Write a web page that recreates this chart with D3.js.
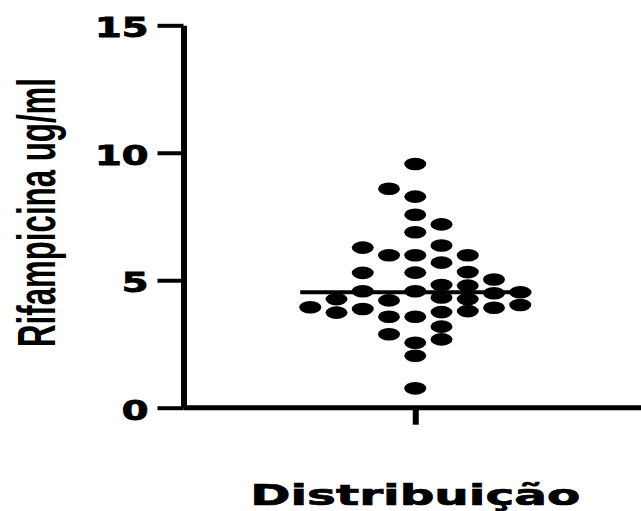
<!DOCTYPE html>
<html>
<head>
<meta charset="utf-8">
<script src="https://cdn.jsdelivr.net/npm/d3@7"></script>
<style>
  html, body { margin: 0; padding: 0; background: #fff; }
  svg { display: block; }
</style>
</head>
<body>
<svg id="chart" width="641" height="511"></svg>
<script>
// ---- data ----
const categories = ["Distribuição"];
const yTickValues = [0, 5, 10, 15];
const yLabel = "Rifampicina ug/ml";
// concentration values (ug/ml)
const values = [
  3.94,
  4.26, 3.73,
  6.28, 5.29, 4.57, 3.87,
  8.59, 5.98, 4.21, 3.57, 2.88,
  9.56, 8.28, 7.57, 6.88, 5.98, 5.30, 4.57, 3.57, 2.55, 2.04, 0.76,
  7.19, 6.36, 5.69, 4.81, 4.32, 3.75, 3.18, 2.68,
  5.98, 5.32, 4.79, 4.26, 3.79,
  5.03, 4.49, 3.92,
  4.53, 4.03
];
// scatter column (dodge slot) of each value, as laid out in the picture
const slots = [
  -4,
  -3, -3,
  -2, -2, -2, -2,
  -1, -1, -1, -1, -1,
  0, 0, 0, 0, 0, 0, 0, 0, 0, 0, 0,
  1, 1, 1, 1, 1, 1, 1, 1,
  2, 2, 2, 2, 2,
  3, 3, 3,
  4, 4
];

// ---- layout ----
const W = 641, H = 511;
const axisX = 183.5, axisY = 407.7, topY = 25.3;
const svg = d3.select("#chart");

const y = d3.scaleLinear().domain([0, 15]).range([axisY, topY]);
const x = d3.scalePoint().domain(categories).range([axisX, 647]);
const dx = d3.scaleLinear().domain([-4, 4]).range([-105, 105]);

// ---- y axis ----
const gy = svg.append("g")
  .attr("transform", `translate(${axisX},0)`)
  .call(d3.axisLeft(y).tickValues(yTickValues).tickSize(26).tickSizeOuter(0).tickFormat(d3.format("d")));
gy.select(".domain").attr("stroke", "#000").attr("stroke-width", 6);
gy.selectAll(".tick line").attr("stroke", "#000").attr("stroke-width", 4);
gy.selectAll(".tick text")
  .attr("x", 0).attr("dy", null)
  .attr("transform", "translate(-35,11.5) scale(1.45,1)")
  .attr("text-anchor", "end")
  .attr("fill", "#000")
  .attr("stroke", "#000")
  .attr("stroke-width", 0.9)
  .style("font-family", "'DejaVu Sans', sans-serif")
  .style("font-weight", "bold")
  .style("font-size", "26.5px");

// ---- x axis ----
const gx = svg.append("g")
  .attr("transform", `translate(0,${axisY})`)
  .call(d3.axisBottom(x).tickSize(17).tickSizeOuter(0).tickFormat(""));
gx.select(".domain").attr("d", `M${axisX},0H${W}`).attr("stroke", "#000").attr("stroke-width", 5);
gx.selectAll(".tick line").attr("stroke", "#000").attr("stroke-width", 6);

// ---- points ----
const cx = x(categories[0]);
svg.append("g").selectAll("ellipse")
  .data(values.map((v, i) => ({ v, s: slots[i] })))
  .join("ellipse")
  .attr("cx", d => cx + dx(d.s))
  .attr("cy", d => y(d.v))
  .attr("rx", 11)
  .attr("ry", 6.3)
  .attr("fill", "#000");

// ---- median line ----
const med = d3.median(values);
svg.append("line")
  .attr("x1", cx - 115).attr("x2", cx + 116)
  .attr("y1", y(med)).attr("y2", y(med))
  .attr("stroke", "#000").attr("stroke-width", 4);

// ---- axis titles ----
svg.append("text")
  .attr("transform", "translate(55,212.5) scale(1.6,1) rotate(-90)")
  .attr("text-anchor", "middle")
  .attr("textLength", 269)
  .attr("lengthAdjust", "spacingAndGlyphs")
  .style("font-family", "'Liberation Sans', Arial, sans-serif")
  .style("font-weight", "bold")
  .style("font-size", "33px")
  .attr("fill", "#000")
  .text(yLabel);

svg.append("text")
  .attr("x", cx).attr("y", 505)
  .attr("text-anchor", "middle")
  .attr("textLength", 330)
  .attr("lengthAdjust", "spacingAndGlyphs")
  .style("font-family", "'DejaVu Sans', sans-serif")
  .style("font-weight", "bold")
  .style("font-size", "27.5px")
  .attr("fill", "#000")
  .attr("stroke", "#000")
  .attr("stroke-width", 0.7)
  .text(categories[0]);
</script>
</body>
</html>
